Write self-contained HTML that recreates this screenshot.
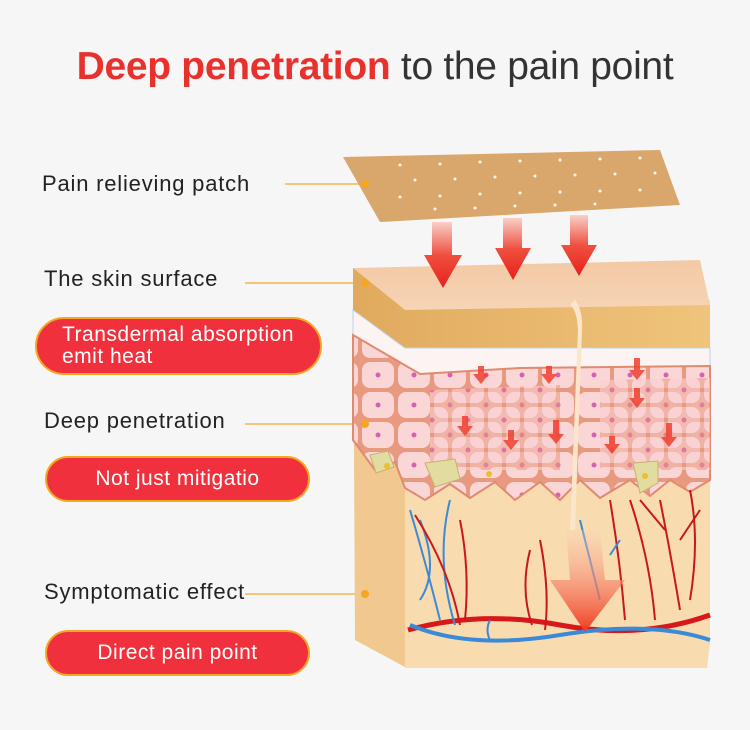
<!DOCTYPE html>
<html><head><meta charset="utf-8">
<style>
html,body{margin:0;padding:0;background:#f6f6f6;}
body{width:750px;height:730px;position:relative;overflow:hidden;font-family:"Liberation Sans",sans-serif;}
.title{position:absolute;left:0;width:750px;top:45px;text-align:center;font-size:39px;color:#333;letter-spacing:-0.3px;}
.title b{color:#e8302c;}
.lab{position:absolute;left:42px;font-size:22px;color:#222;letter-spacing:0.8px;}
.pill{position:absolute;background:#f0303c;border:2px solid #f5a623;border-radius:30px;color:#fff;font-size:21px;box-sizing:border-box;letter-spacing:0.5px;}
</style></head><body>
<div class="title"><b>Deep penetration</b> to the pain point</div>
<div class="lab" style="top:171px">Pain relieving patch</div>
<div class="lab" style="top:266px;left:44px">The skin surface</div>
<div class="lab" style="top:408px;left:44px">Deep penetration</div>
<div class="lab" style="top:579px;left:44px">Symptomatic effect</div>
<div class="pill" style="left:35px;top:317px;width:287px;height:58px;padding:5px 0 0 25px;line-height:22px">Transdermal absorption<br>emit heat</div>
<div class="pill" style="left:45px;top:456px;width:265px;height:46px;text-align:center;line-height:42px">Not just mitigatio</div>
<div class="pill" style="left:45px;top:630px;width:265px;height:46px;text-align:center;line-height:42px">Direct pain point</div>
<svg width="750" height="730" style="position:absolute;left:0;top:0">
<defs>
<pattern id="cells" x="0" y="0" width="36" height="30" patternUnits="userSpaceOnUse">
<rect x="0" y="0" width="36" height="30" fill="#e89a80"/>
<rect x="2" y="2" width="32" height="26" rx="8" fill="#fbd6d6"/>
<circle cx="18" cy="15" r="2.5" fill="#d860b0"/>
</pattern>
<pattern id="cells2" x="18" y="15" width="36" height="30" patternUnits="userSpaceOnUse">
<rect x="0" y="0" width="36" height="30" fill="#e89a80"/>
<rect x="2" y="2" width="32" height="26" rx="8" fill="#fad0d2"/>
<circle cx="18" cy="15" r="2.5" fill="#d860b0"/>
</pattern>
<linearGradient id="top" x1="0" y1="0" x2="0" y2="1"><stop offset="0" stop-color="#f3c9a4"/><stop offset="1" stop-color="#f6d4b6"/></linearGradient>
<linearGradient id="band" x1="0" y1="0" x2="1" y2="0"><stop offset="0" stop-color="#e0aa5e"/><stop offset="1" stop-color="#f0c47c"/></linearGradient>
<linearGradient id="arr" x1="0" y1="0" x2="0" y2="1"><stop offset="0" stop-color="#f8d0c8"/><stop offset="0.5" stop-color="#ef5040"/><stop offset="1" stop-color="#e8201c"/></linearGradient>
<linearGradient id="big" x1="0" y1="0" x2="0" y2="1"><stop offset="0" stop-color="#fbd2b8" stop-opacity="0.3"/><stop offset="1" stop-color="#f03a20"/></linearGradient>
</defs>
<g stroke="#f5a623" stroke-width="1.3">
<line x1="285" y1="184" x2="365" y2="184"/>
<line x1="245" y1="283" x2="365" y2="283"/>
<line x1="245" y1="424" x2="365" y2="424"/>
<line x1="245" y1="594" x2="365" y2="594"/>
</g>
<polygon points="343,157 660,150 680,205 380,222" fill="#d9a66c"/>
<g fill="#fff" opacity="0.9">
<circle cx="400" cy="165" r="1.5"/><circle cx="440" cy="164" r="1.5"/><circle cx="480" cy="162" r="1.5"/><circle cx="520" cy="161" r="1.5"/><circle cx="560" cy="160" r="1.5"/><circle cx="600" cy="159" r="1.5"/><circle cx="640" cy="158" r="1.5"/>
<circle cx="415" cy="180" r="1.5"/><circle cx="455" cy="179" r="1.5"/><circle cx="495" cy="177" r="1.5"/><circle cx="535" cy="176" r="1.5"/><circle cx="575" cy="175" r="1.5"/><circle cx="615" cy="174" r="1.5"/><circle cx="655" cy="173" r="1.5"/>
<circle cx="400" cy="197" r="1.5"/><circle cx="440" cy="196" r="1.5"/><circle cx="480" cy="194" r="1.5"/><circle cx="520" cy="193" r="1.5"/><circle cx="560" cy="192" r="1.5"/><circle cx="600" cy="191" r="1.5"/><circle cx="640" cy="190" r="1.5"/>
<circle cx="435" cy="209" r="1.5"/><circle cx="475" cy="208" r="1.5"/><circle cx="515" cy="206" r="1.5"/><circle cx="555" cy="205" r="1.5"/><circle cx="595" cy="204" r="1.5"/>
</g>
<polygon points="353,268 405,300 405,667 355,640" fill="#f0c890"/>
<rect x="405" y="300" width="305" height="345" fill="#f8dcb0"/>
<polygon points="405,645 710,643 707,668 405,668" fill="#f8dcb0"/>
<polygon points="353,268 700,260 710,305 405,310" fill="url(#top)"/>
<polygon points="353,268 405,310 710,305 710,348 405,348 353,310" fill="url(#band)"/>
<polygon points="353,310 405,348 710,348 710,366 520,368 420,374 353,335" fill="#fbf4f2" stroke="#b8d4ec" stroke-width="1"/>
<path d="M353,335 L420,374 L520,368 L710,366 L710,480 L690,492 L670,480 L650,496 L630,480 L600,498 L580,480 L560,500 L540,482 L515,500 L495,482 L470,498 L450,484 L425,500 L405,488 L395,462 L375,470 L353,440 Z" fill="url(#cells)" stroke="#e08a70" stroke-width="2"/>
<path d="M600,380 L710,378 L710,470 L600,470 Z" fill="url(#cells2)" opacity="0.6"/>
<path d="M430,390 L560,385 L560,470 L430,470 Z" fill="url(#cells2)" opacity="0.6"/>
<path d="M370,455 l18,-4 l6,16 l-18,6z M425,463 l30,-4 l5,20 l-25,8z M633,463 l25,-2 l0,22 l-18,10z" fill="#e2dca0" stroke="#c8b070"/>
<circle cx="387" cy="466" r="3" fill="#e8c030"/><circle cx="489" cy="474" r="3" fill="#e8c030"/><circle cx="645" cy="476" r="3" fill="#e8c030"/>
<path d="M575,300 Q583,310 582,330 L575,530 L570,530 L578,330 Q577,310 570,305 Z" fill="#fbe6cc"/>
<g fill="none" stroke-width="2">
<path d="M408,630 Q480,610 560,625 T710,615" stroke="#d81818" stroke-width="5"/>
<path d="M410,625 Q470,650 560,635 T710,640" stroke="#3a8ad8" stroke-width="4"/>
<path d="M410,510 Q425,560 440,620 M450,500 Q435,560 455,625 M420,520 Q440,570 420,600" stroke="#3a8ad8"/>
<path d="M415,515 Q450,570 460,625 M460,520 Q470,570 465,620" stroke="#c81818"/>
<path d="M540,540 Q550,590 545,630 M610,500 Q620,560 625,620 M530,550 Q520,590 532,625" stroke="#c81818"/>
<path d="M580,520 Q590,560 600,600 M620,540 L610,555" stroke="#3a8ad8"/>
<path d="M630,500 Q650,560 655,620 M660,500 Q670,550 680,610 M690,490 Q700,540 690,600 M640,500 L665,530 M700,510 L680,540" stroke="#c81818"/>
<path d="M490,620 Q485,630 490,640" stroke="#3a8ad8"/>
</g>
<path d="M566,530 L600,530 L605,580 L625,580 L585,632 L550,580 L570,580 Z" fill="url(#big)"/>
<g fill="url(#arr)">
<path d="M432,222 L452,222 L452,255 L462,255 L443,288 L424,255 L432,255 Z"/>
<path d="M503,218 L522,218 L522,248 L531,248 L513,280 L495,248 L503,248 Z"/>
<path d="M570,215 L588,215 L588,245 L597,245 L579,276 L561,245 L570,245 Z"/>
</g>
<g fill="#f04030" opacity="0.85">
<path d="M478,366 h6 v8 h5 l-8,10 l-8,-10 h5z"/><path d="M546,366 h6 v8 h5 l-8,10 l-8,-10 h5z"/><path d="M634,358 h6 v12 h5 l-8,10 l-8,-10 h5z"/>
<path d="M634,388 h6 v10 h5 l-8,10 l-8,-10 h5z"/><path d="M462,416 h6 v10 h5 l-8,10 l-8,-10 h5z"/><path d="M508,430 h6 v10 h5 l-8,10 l-8,-10 h5z"/>
<path d="M553,420 h6 v14 h5 l-8,10 l-8,-10 h5z"/><path d="M609,436 h6 v8 h5 l-8,10 l-8,-10 h5z"/><path d="M666,423 h6 v14 h5 l-8,10 l-8,-10 h5z"/>
</g>
<g fill="#f5a623"><circle cx="365" cy="184" r="4"/><circle cx="365" cy="283" r="4"/><circle cx="365" cy="424" r="4"/><circle cx="365" cy="594" r="4"/></g>
</svg>
</body></html>
